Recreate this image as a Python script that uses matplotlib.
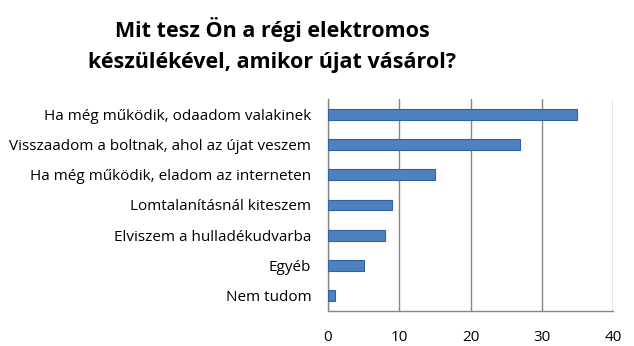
import matplotlib
matplotlib.use("Agg")
from matplotlib import pyplot as plt

# answers, top to bottom as in the chart
categories = [
    "Ha még működik, odaadom valakinek",
    "Visszaadom a boltnak, ahol az újat veszem",
    "Ha még működik, eladom az interneten",
    "Lomtalanításnál kiteszem",
    "Elviszem a hulladékudvarba",
    "Egyéb",
    "Nem tudom",
]
values = [35, 27, 15, 9, 8, 5, 1]
x_ticks = [0, 10, 20, 30, 40]

plt.rcParams["font.family"] = ["Open Sans", "DejaVu Sans"]

fig = plt.figure(figsize=(6.34, 3.46), dpi=100)
ax = fig.add_axes([328 / 634, 35 / 346, 285 / 634, 212 / 346])

y_pos = list(range(len(categories)))
ax.barh(y_pos, values, height=0.36, color="#4F81BD", edgecolor="#2F62A8",
        linewidth=0.8, zorder=3)

ax.set_ylim(len(categories) - 0.5, -0.5)
ax.set_xlim(0, 40)
ax.set_yticks(y_pos)
ax.set_yticklabels(categories, fontsize=11)
ax.set_xticks(x_ticks)
ax.set_xticklabels([str(t) for t in x_ticks], fontsize=11)
ax.tick_params(axis="both", length=0)
ax.tick_params(axis="y", pad=12)
ax.tick_params(axis="x", pad=14)

ax.grid(axis="x", color="#868686", linewidth=1, zorder=0)
for side in ["top", "right"]:
    ax.spines[side].set_visible(False)
for side in ["left", "bottom"]:
    ax.spines[side].set_color("#868686")
    ax.spines[side].set_linewidth(1)

fig.text(272 / 634, 1 - 68 / 346,
         "Mit tesz Ön a régi elektromos\nkészülékével, amikor újat vásárol?",
         ha="center", va="baseline", fontsize=15.5, fontweight="bold",
         linespacing=1.62)

fig.savefig("out.png", dpi=100)
